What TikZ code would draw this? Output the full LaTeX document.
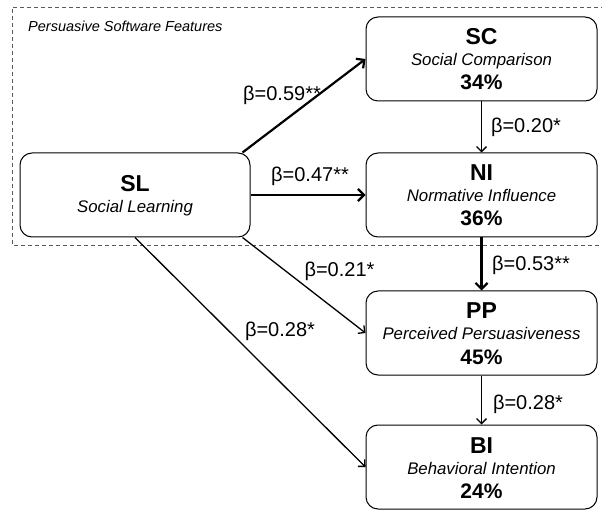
\documentclass[tikz,border=0pt]{standalone}
\usepackage{fontspec}
\setmainfont{Liberation Sans}
\usetikzlibrary{arrows.meta,calc}
\tikzset{
  box/.style={draw=black, line width=1pt, rounded corners=12pt, minimum width=231pt, minimum height=84pt, inner sep=0pt},
  ttl/.style={anchor=base, inner sep=0pt, font=\fontsize{23}{23}\selectfont\bfseries},
  sub/.style={anchor=base, inner sep=0pt, font=\fontsize{16.8}{16.8}\selectfont\itshape},
  pct/.style={anchor=base, inner sep=0pt, font=\fontsize{21}{21}\selectfont\bfseries},
  lbl/.style={anchor=base, inner sep=0pt, font=\fontsize{20}{20}\selectfont},
  thick arr/.style={line width=2.2pt, -{Straight Barb[length=6pt,width=12pt,line width=2.2pt]}},
  thin arr/.style={line width=1.3pt, -{Straight Barb[length=5pt,width=10pt,line width=1.3pt]}},
  grp/.style={draw=black!65, line width=0.8pt, dash pattern=on 4pt off 3pt}
}
\begin{document}
\begin{tikzpicture}[x=1pt,y=-1pt]
\useasboundingbox (0,0) rectangle (602,510);
\fill[white] (0,0) rectangle (602,510);
% group frame
\draw[grp] (605,7) -- (12,7) -- (12,245) -- (605,245);
\node[anchor=base west, inner sep=0pt, font=\fontsize{14.5}{14.5}\selectfont\itshape] (grplbl) at (28,32) {Persuasive Software Features};
% boxes
\node[box, minimum width=230pt] (sl) at (135,195) {};
\node[ttl] (slt) at ($(sl.center)+(0,-3)$) {SL};
\node[sub] (sls) at ($(sl.center)+(0,18)$) {Social Learning};

\node[box] (sc) at (481.5,59) {};
\node[ttl] (sct) at ($(sc.center)+(0,-14)$) {SC};
\node[sub] (scs) at ($(sc.center)+(0,7)$) {Social Comparison};
\node[pct] (scp) at ($(sc.center)+(0,31)$) {34\%};

\node[box] (ni) at (481.5,195) {};
\node[ttl] (nit) at ($(ni.center)+(0,-14)$) {NI};
\node[sub] (nis) at ($(ni.center)+(0,7)$) {Normative Influence};
\node[pct] (nip) at ($(ni.center)+(0,31)$) {36\%};

\node[box] (pp) at (481.5,333) {};
\node[ttl] (ppt) at ($(pp.center)+(0,-14)$) {PP};
\node[sub] (pps) at ($(pp.center)+(0,7)$) {Perceived Persuasiveness};
\node[pct] (ppp) at ($(pp.center)+(0,31)$) {45\%};

\node[box] (bi) at (481.5,467) {};
\node[ttl] (bit) at ($(bi.center)+(0,-14)$) {BI};
\node[sub] (bis) at ($(bi.center)+(0,7)$) {Behavioral Intention};
\node[pct] (bip) at ($(bi.center)+(0,31)$) {24\%};

% connectors
\draw[thick arr] ([xshift=-8pt]sl.north east) -- (sc.west);
\draw[thick arr] (sl.east) -- (ni.west);
\draw[thin arr] ([xshift=-8pt]sl.south east) -- (pp.west);
\draw[thin arr] (sl.south) -- (bi.west);
\draw[thin arr] (sc.south) -- (ni.north);
\draw[thick arr] (ni.south) -- (pp.north);
\draw[thin arr] (pp.south) -- (bi.north);

% labels
\node[lbl] (l1) at (282,101) {β=0.59**};
\node[lbl] (l2) at (310,182) {β=0.47**};
\node[lbl] (l3) at (526,133) {β=0.20*};
\node[lbl] (l4) at (531,271) {β=0.53**};
\node[lbl] (l5) at (339.5,277) {β=0.21*};
\node[lbl] (l6) at (280,337) {β=0.28*};
\node[lbl] (l7) at (528,409) {β=0.28*};
\end{tikzpicture}
\end{document}
